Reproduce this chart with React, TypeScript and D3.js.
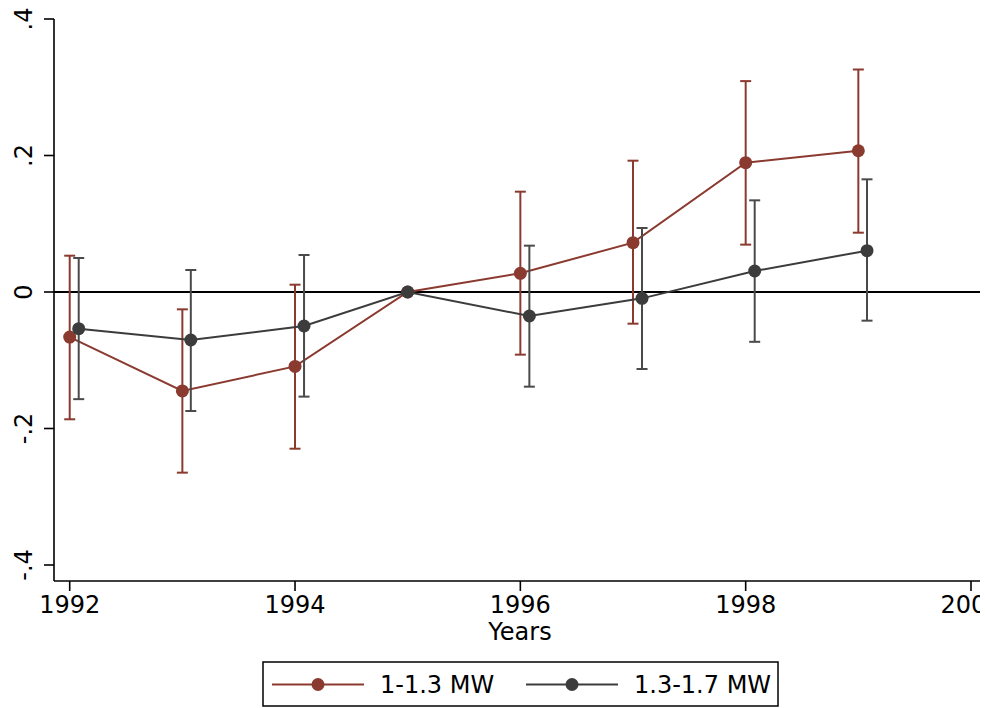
import React from "react";
import * as d3 from "d3";

const years = [1992, 1993, 1994, 1995, 1996, 1997, 1998, 1999];
const greyYears = [1992.08, 1993.075, 1994.08, 1995, 1996.08, 1997.08, 1998.08, 1999.077];

const redEst = [-0.066, -0.145, -0.109, 0, 0.0274, 0.0723, 0.1895, 0.207];
const redLo = [-0.1865, -0.2647, -0.2296, null, -0.0918, -0.0464, 0.0694, 0.0869];
const redHi = [0.0532, -0.0254, 0.0107, null, 0.147, 0.1924, 0.309, 0.326];

const greyEst = [-0.0537, -0.0703, -0.0498, 0, -0.0352, -0.0093, 0.0308, 0.0606];
const greyLo = [-0.157, -0.1744, -0.1533, null, -0.1387, -0.1128, -0.073, -0.042];
const greyHi = [0.0498, 0.0322, 0.0542, null, 0.0679, 0.0938, 0.1343, 0.1651];

const xTicks = [1992, 1994, 1996, 1998, 2000];
const yTicks = [-0.4, -0.2, 0, 0.2, 0.4];
const yTickLabels = ["-.4", "-.2", "0", ".2", ".4"];
const seriesNames = ["1-1.3 MW", "1.3-1.7 MW"];

const RED = "#8b3a2f";
const GREY = "#3c3c3c";
const GREY_BAR = "#4a4a4a";
const FONT = "DejaVu Sans, sans-serif";

export default function App() {
  const W = 985, H = 708;
  const CLIP_W = 980;
  const x = d3.scaleLinear().domain([1992, 2000]).range([69.7, 971]);
  const y = d3.scaleLinear().domain([-0.4, 0.4]).range([565, 19]);
  const axisY = 581;
  const axisX = 54;

  const line = d3
    .line<[number, number]>()
    .x((d) => x(d[0]))
    .y((d) => y(d[1]));

  const series = [
    { name: seriesNames[0], xs: years, est: redEst, lo: redLo, hi: redHi, color: RED, bar: RED },
    { name: seriesNames[1], xs: greyYears, est: greyEst, lo: greyLo, hi: greyHi, color: GREY, bar: GREY_BAR },
  ];

  const cap = 5.5;

  return (
    <svg
      width={W}
      height={H}
      style={{ position: "absolute", left: 0, top: 0, background: "#fff" }}
      fontFamily={FONT}
    >
      <defs>
        <clipPath id="outerClip">
          <rect x={0} y={0} width={CLIP_W} height={H} />
        </clipPath>
      </defs>
      <rect x={0} y={0} width={W} height={H} fill="#fff" />
      <g clipPath="url(#outerClip)">
        {/* zero line */}
        <line x1={axisX} x2={W} y1={y(0)} y2={y(0)} stroke="#000" strokeWidth={2} />

        {series.map((s, si) => (
          <g key={si}>
            {s.xs.map((xv, i) => {
              const lo = s.lo[i];
              const hi = s.hi[i];
              if (lo == null || hi == null) return null;
              const cx = x(xv);
              return (
                <g key={i} stroke={s.bar} strokeWidth={2} fill="none">
                  <line x1={cx} x2={cx} y1={y(lo)} y2={y(hi)} />
                  <line x1={cx - cap} x2={cx + cap} y1={y(lo)} y2={y(lo)} />
                  <line x1={cx - cap} x2={cx + cap} y1={y(hi)} y2={y(hi)} />
                </g>
              );
            })}
            <path
              d={line(s.xs.map((xv, i) => [xv, s.est[i]] as [number, number])) || ""}
              fill="none"
              stroke={s.color}
              strokeWidth={2}
            />
            {s.xs.map((xv, i) => (
              <circle key={i} cx={x(xv)} cy={y(s.est[i])} r={6.5} fill={s.color} />
            ))}
          </g>
        ))}

        {/* y axis */}
        <line x1={axisX} x2={axisX} y1={y(0.4)} y2={axisY} stroke="#000" strokeWidth={1.6} />
        {yTicks.map((t, i) => (
          <g key={i}>
            <line x1={axisX - 10} x2={axisX} y1={y(t)} y2={y(t)} stroke="#000" strokeWidth={1.6} />
            <text
              transform={`translate(32, ${y(t)}) rotate(-90)`}
              textAnchor="middle"
              fontSize={24}
              fill="#000"
            >
              {yTickLabels[i]}
            </text>
          </g>
        ))}

        {/* x axis */}
        <line x1={axisX} x2={W} y1={axisY} y2={axisY} stroke="#000" strokeWidth={1.6} />
        {xTicks.map((t, i) => (
          <g key={i}>
            <line x1={x(t)} x2={x(t)} y1={axisY} y2={axisY + 10} stroke="#000" strokeWidth={1.6} />
            <text x={x(t)} y={613} textAnchor="middle" fontSize={24} fill="#000">
              {t}
            </text>
          </g>
        ))}
        <text x={520} y={640} textAnchor="middle" fontSize={24} fill="#000">
          Years
        </text>
      </g>

      {/* legend */}
      <rect x={263} y={662} width={515} height={44} fill="#fff" stroke="#000" strokeWidth={1.5} />
      {series.map((s, si) => {
        const lx = si === 0 ? 272 : 526;
        const tx = si === 0 ? 380 : 634;
        const cy = 684.5;
        return (
          <g key={si}>
            <line x1={lx} x2={lx + 92} y1={cy} y2={cy} stroke={s.color} strokeWidth={2} />
            <circle cx={lx + 46} cy={cy} r={6.5} fill={s.color} />
            <text x={tx} y={cy + 8.5} fontSize={24} fill="#000">
              {s.name}
            </text>
          </g>
        );
      })}
    </svg>
  );
}
